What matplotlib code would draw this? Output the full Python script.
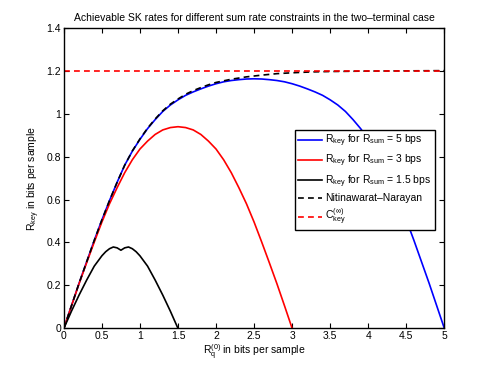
import matplotlib
matplotlib.use("Agg")
import matplotlib.pyplot as plt
import numpy as np

plt.rcParams['font.family'] = ['Liberation Sans', 'DejaVu Sans']
plt.rcParams['mathtext.fontset'] = 'custom'
plt.rcParams['mathtext.rm'] = 'Liberation Sans'
plt.rcParams['mathtext.it'] = 'Liberation Sans:italic'
plt.rcParams['mathtext.default'] = 'rm'

# Blue: R_sum = 5 bps (symmetric about 2.5)
x_r5 = [0, 0.1, 0.2, 0.3, 0.4, 0.5, 0.6, 0.7, 0.8, 0.9, 1.0, 1.1, 1.2, 1.3, 1.4, 1.5,
        1.6, 1.7, 1.8, 1.9, 2.0, 2.1, 2.2, 2.3, 2.4, 2.5,
        2.6, 2.7, 2.8, 2.9, 3.0, 3.1, 3.2, 3.3, 3.4, 3.5, 3.6, 3.7, 3.8, 3.9, 4.0,
        4.1, 4.2, 4.3, 4.4, 4.5, 4.6, 4.7, 4.8, 4.9, 5.0]
y_r5 = [0, 0.105, 0.21, 0.31, 0.41, 0.505, 0.595, 0.68, 0.76, 0.825, 0.88, 0.93, 0.972, 1.01, 1.04, 1.064,
        1.085, 1.101, 1.115, 1.128, 1.139, 1.148, 1.154, 1.158, 1.161, 1.162,
        1.161, 1.158, 1.154, 1.148, 1.139, 1.128, 1.115, 1.101, 1.085, 1.064, 1.04, 1.01, 0.972, 0.93, 0.88,
        0.825, 0.76, 0.68, 0.595, 0.505, 0.41, 0.31, 0.21, 0.105, 0]

# Red: R_sum = 3 bps (symmetric about 1.5)
x_r3 = [0, 0.1, 0.2, 0.3, 0.4, 0.5, 0.6, 0.7, 0.8, 0.9, 1.0, 1.1, 1.2, 1.3, 1.4, 1.5,
        1.6, 1.7, 1.8, 1.9, 2.0, 2.1, 2.2, 2.3, 2.4, 2.5, 2.6, 2.7, 2.8, 2.9, 3.0]
y_r3 = [0, 0.105, 0.208, 0.306, 0.402, 0.495, 0.58, 0.655, 0.725, 0.785, 0.835, 0.872, 0.903, 0.924, 0.935, 0.939,
        0.935, 0.924, 0.903, 0.872, 0.835, 0.785, 0.725, 0.655, 0.58, 0.495, 0.402, 0.306, 0.208, 0.105, 0]

# Black: R_sum = 1.5 bps (symmetric about 0.75)
x_r15 = [0, 0.1, 0.2, 0.3, 0.4, 0.5, 0.55, 0.6, 0.65, 0.7, 0.75,
         0.8, 0.85, 0.9, 0.95, 1.0, 1.1, 1.2, 1.3, 1.4, 1.5]
y_r15 = [0, 0.08, 0.155, 0.225, 0.29, 0.338, 0.357, 0.371, 0.379, 0.375, 0.364,
         0.375, 0.379, 0.371, 0.357, 0.338, 0.29, 0.225, 0.155, 0.08, 0]

# Nitinawarat-Narayan
x_nn = [0, 0.1, 0.2, 0.3, 0.4, 0.5, 0.6, 0.7, 0.8, 0.9, 1.0, 1.1, 1.2, 1.3, 1.4, 1.5,
        1.6, 1.7, 1.8, 1.9, 2.0, 2.2, 2.4, 2.6, 2.8, 3.0, 3.25, 3.5, 4.0, 4.5, 5.0]
y_nn = [0, 0.105, 0.21, 0.31, 0.41, 0.505, 0.595, 0.68, 0.76, 0.826, 0.882, 0.932, 0.975, 1.013, 1.044, 1.068,
        1.09, 1.107, 1.121, 1.134, 1.145, 1.16, 1.171, 1.179, 1.186, 1.19, 1.194, 1.196, 1.198, 1.199, 1.2]

# C_key^(inf)
x_c = [0, 5]
y_c = [1.2, 1.2]

xticks = [0, 0.5, 1, 1.5, 2, 2.5, 3, 3.5, 4, 4.5, 5]
xticklabels = ['0', '0.5', '1', '1.5', '2', '2.5', '3', '3.5', '4', '4.5', '5']
yticks = [0, 0.2, 0.4, 0.6, 0.8, 1.0, 1.2, 1.4]
yticklabels = ['0', '0.2', '0.4', '0.6', '0.8', '1', '1.2', '1.4']

labels = [r'R$_{\mathrm{key}}$ for R$_{\mathrm{sum}}$ = 5 bps',
          r'R$_{\mathrm{key}}$ for R$_{\mathrm{sum}}$ = 3 bps',
          r'R$_{\mathrm{key}}$ for R$_{\mathrm{sum}}$ = 1.5 bps',
          'Nitinawarat\u2013Narayan',
          r'C$_{\mathrm{key}}^{(\infty)}$']

fig = plt.figure(figsize=(4.91, 3.69), dpi=100)
ax = fig.add_axes([0.13, 0.11, 0.775, 0.815])

lw = 1.2
ax.plot(x_r5, y_r5, color='#0000ff', lw=lw, label=labels[0])
ax.plot(x_r3, y_r3, color='#ff0000', lw=lw, label=labels[1])
ax.plot(x_r15, y_r15, color='black', lw=lw, label=labels[2])
ax.plot(x_nn, y_nn, color='black', lw=lw, ls=(0, (3.5, 2.5)), label=labels[3])
ax.plot(x_c, y_c, color='#ff0000', lw=lw, ls=(0, (3.5, 2.5)), label=labels[4])

ax.set_xlim(0, 5)
ax.set_ylim(0, 1.4)
ax.set_xticks(xticks)
ax.set_xticklabels(xticklabels)
ax.set_yticks(yticks)
ax.set_yticklabels(yticklabels)
ax.tick_params(direction='in', top=True, right=True, length=3.5, width=0.8,
               labelsize=7.5, pad=2)
for s in ax.spines.values():
    s.set_linewidth(1.0)

ax.set_title('Achievable SK rates for different sum rate constraints in the two\u2013terminal case',
             fontsize=7.5, pad=5)
ax.set_xlabel(r'R$_{\mathrm{q}}^{(0)}$ in bits per sample', fontsize=7.5, labelpad=1)
ax.set_ylabel(r'R$_{\mathrm{key}}$ in bits per sample', fontsize=7.5, labelpad=3)

leg = ax.legend(loc='upper left', bbox_to_anchor=(0.608, 0.66), fontsize=7.5,
                frameon=True, fancybox=False, edgecolor='black', framealpha=1,
                handlelength=2.3, handletextpad=0.3, borderpad=0.3, labelspacing=0.35,
                borderaxespad=0)
leg.get_frame().set_linewidth(1.0)

fig.savefig('out.png', dpi=100)
